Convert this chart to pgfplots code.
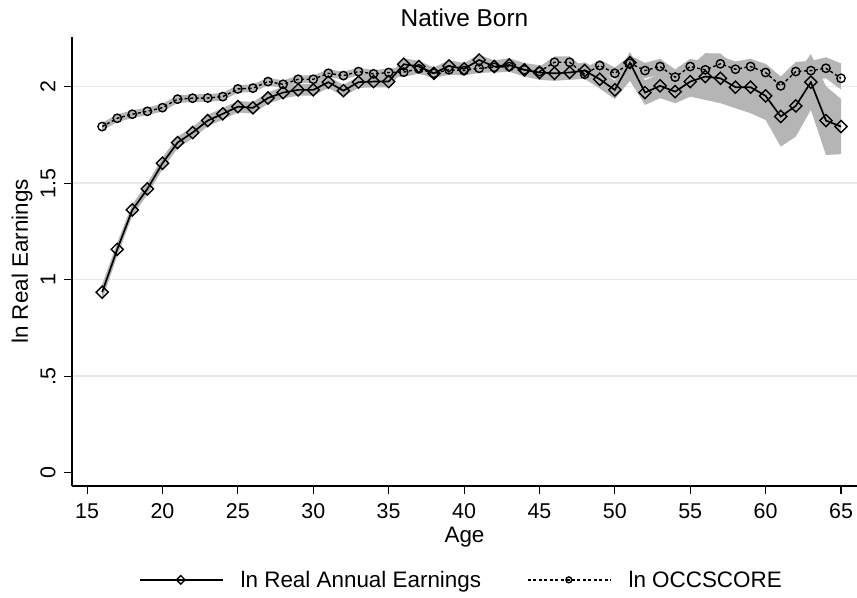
\documentclass[border=0pt]{standalone}
\usepackage{fontspec}
\setmainfont{Liberation Sans}
\usepackage{pgfplots}
\usepackage{pgfplotstable}
\pgfplotsset{compat=1.18}
\usepgfplotslibrary{fillbetween}
\definecolor{bandc}{RGB}{181,181,181}
\definecolor{gridc}{RGB}{226,235,239}

\pgfplotstableread{
age earn elo ehi occ olo ohi
16 0.935 0.895 0.975 1.793 1.773 1.813
17 1.157 1.122 1.192 1.836 1.816 1.856
18 1.361 1.331 1.391 1.857 1.837 1.877
19 1.470 1.440 1.500 1.872 1.852 1.892
20 1.603 1.573 1.633 1.891 1.871 1.911
21 1.710 1.680 1.740 1.935 1.915 1.955
22 1.762 1.732 1.792 1.940 1.920 1.960
23 1.824 1.794 1.854 1.941 1.921 1.961
24 1.859 1.829 1.889 1.948 1.928 1.968
25 1.896 1.866 1.926 1.988 1.968 2.008
26 1.890 1.860 1.920 1.992 1.972 2.012
27 1.941 1.911 1.971 2.026 2.006 2.046
28 1.969 1.939 1.999 2.012 1.992 2.032
29 1.983 1.953 2.013 2.038 2.018 2.058
30 1.983 1.953 2.013 2.038 2.018 2.058
31 2.023 1.993 2.053 2.069 2.049 2.089
32 1.979 1.949 2.009 2.057 2.037 2.077
33 2.023 1.993 2.053 2.078 2.058 2.098
34 2.026 1.996 2.056 2.066 2.046 2.086
35 2.026 1.996 2.056 2.073 2.053 2.093
36 2.116 2.086 2.146 2.075 2.050 2.100
37 2.104 2.074 2.134 2.092 2.067 2.117
38 2.069 2.039 2.099 2.069 2.044 2.094
39 2.107 2.077 2.137 2.087 2.062 2.112
40 2.092 2.062 2.122 2.083 2.058 2.108
41 2.138 2.108 2.166 2.095 2.070 2.120
42 2.104 2.072 2.136 2.100 2.075 2.125
43 2.112 2.077 2.147 2.104 2.079 2.129
44 2.087 2.052 2.122 2.087 2.062 2.112
45 2.073 2.035 2.111 2.078 2.053 2.103
46 2.069 2.030 2.108 2.126 2.096 2.156
47 2.073 2.035 2.111 2.126 2.096 2.156
48 2.083 2.040 2.126 2.064 2.034 2.094
49 2.038 1.990 2.086 2.109 2.079 2.139
50 1.983 1.935 2.031 2.069 2.039 2.099
51 2.124 2.030 2.180 2.121 2.081 2.161
52 1.969 1.905 2.033 2.083 2.043 2.123
53 2.004 1.940 2.068 2.104 2.064 2.144
54 1.974 1.914 2.034 2.049 2.009 2.089
55 2.026 1.948 2.104 2.104 2.064 2.144
56 2.052 1.931 2.173 2.087 2.047 2.127
57 2.043 1.914 2.172 2.118 2.078 2.158
58 1.997 1.888 2.106 2.090 2.050 2.130
59 1.997 1.862 2.132 2.104 2.064 2.144
60 1.952 1.827 2.077 2.073 2.028 2.118
61 1.845 1.689 2.001 2.004 1.956 2.052
62 1.900 1.741 2.059 2.078 2.028 2.128
63 2.023 1.879 2.169 2.083 2.033 2.133
64 1.824 1.646 2.002 2.095 2.043 2.152
65 1.793 1.650 1.936 2.043 1.985 2.120
}\data

\begin{document}
\begin{tikzpicture}
\begin{axis}[
  scale only axis, width=785bp, height=449bp,
  xmin=14, xmax=66.06, ymin=-0.069, ymax=2.257,
  axis x line=bottom, axis y line=left,
  axis line style={-, line width=1.1bp, black},
  tick align=outside, major tick length=8bp,
  tick style={line width=1.1bp, black},
  xtick={15,20,...,65},
  ytick={0,0.5,1,1.5,2},
  yticklabels={0,.5,1,1.5,2},
  extra y ticks={0.5,1,1.5,2},
  extra y tick labels={},
  extra y tick style={grid=major, major tick length=0pt},
  grid style={gridc, line width=1.6bp},
  /pgf/number format/assume math mode=true,
  ticklabel style={font=\fontsize{21.5}{25}\selectfont},
  yticklabel style={rotate=90, anchor=south, yshift=5bp},
  xticklabel style={anchor=north, yshift=-6bp},
  title={Native Born},
  every axis title/.style={at={(0.5,1)}, anchor=base, yshift=10bp, font=\fontsize{24.5}{28}\selectfont},
  xlabel={Age},
  every axis x label/.style={at={(axis description cs:0.5,0)}, anchor=center, yshift=-51bp, font=\fontsize{22.5}{26}\selectfont},
  ylabel={ln Real Earnings},
  every axis y label/.style={at={(axis description cs:-0.0637,0.5)}, rotate=90, anchor=center, font=\fontsize{22.5}{26}\selectfont},
  legend style={at={(0.496,-0.209)}, anchor=center, draw=none, fill=none,
    legend columns=2, font=\fontsize{22.5}{26}\selectfont,
    /tikz/every odd column/.append style={column sep=15bp},
    /tikz/every even column/.append style={column sep=44bp}},
  legend image code/.code={\draw[mark repeat=2,mark phase=2, /tikz/every mark/.append style={scale=0.7}] plot coordinates {(0bp,0bp) (41bp,0bp) (83bp,0bp)};},
]
\addplot[draw=none, name path=ehi, forget plot] table[x=age,y=ehi]{\data};
\addplot[draw=none, name path=elo, forget plot] table[x=age,y=elo]{\data};
\addplot[draw=none, name path=ohi, forget plot] table[x=age,y=ohi]{\data};
\addplot[draw=none, name path=olo, forget plot] table[x=age,y=olo]{\data};
\addplot[fill=bandc, draw=none, forget plot] fill between[of=ehi and elo];
\addplot[fill=bandc, draw=none, forget plot] fill between[of=ohi and olo];
\addplot[black, line width=1.7bp, mark=square, mark size=4.3bp,
  mark options={rotate=45, solid, line width=1.4bp}] table[x=age,y=earn]{\data};
\addlegendentry{ln Real Annual Earnings}
\addplot[black, line width=1.4bp, dash pattern=on 3bp off 2.5bp, mark=o, mark size=4.2bp,
  mark options={solid, line width=1.4bp}] table[x=age,y=occ]{\data};
\addlegendentry{ln OCCSCORE}
\end{axis}
\pgfresetboundingbox
\path ([shift={(-72bp,-112bp)}]current axis.south west) rectangle ([shift={(0bp,37bp)}]current axis.north east);
\end{tikzpicture}
\end{document}
